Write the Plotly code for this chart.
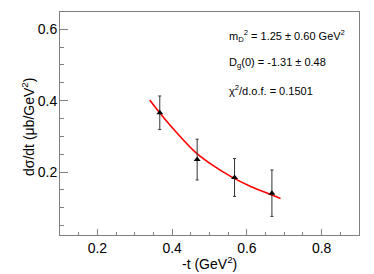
import plotly.graph_objects as go

# data points
t_vals = [0.367, 0.467, 0.567, 0.667]
xs_vals = [0.366, 0.235, 0.185, 0.141]
xs_err = [0.047, 0.057, 0.053, 0.065]

# fit curve samples
fit_t = [0.34, 0.37, 0.41, 0.465, 0.51, 0.56, 0.61, 0.667, 0.69]
fit_y = [0.402, 0.362, 0.313, 0.253, 0.218, 0.186, 0.160, 0.136, 0.126]

fit_text = [
    "m<sub>D</sub><sup>2</sup> = 1.25 ± 0.60 GeV<sup>2</sup>",
    "D<sub>g</sub>(0) = -1.31 ± 0.48",
    "χ<sup>2</sup>/d.o.f. = 0.1501",
]
x_title = "-t (GeV<sup>2</sup>)"
y_title = "dσ/dt (μb/GeV<sup>2</sup>)"

W, H = 374, 274
L, R, T, B = 60, 15, 12, 39
PW, PH = W - L - R, H - T - B


def px(X):
    return (X - L) / PW


def py(Y):
    return 1 - (Y - T) / PH


fig = go.Figure()
fig.add_trace(go.Scatter(
    x=fit_t, y=fit_y, mode="lines", line=dict(color="#ff0000", width=1.6, shape="spline"),
    showlegend=False, hoverinfo="skip"))
fig.add_trace(go.Scatter(
    x=t_vals, y=xs_vals, mode="markers",
    marker=dict(symbol="triangle-up", size=6, color="black"),
    error_y=dict(type="data", array=xs_err, visible=True, color="#333333", thickness=1, width=1.5),
    showlegend=False))

font = "Liberation Sans, Arial, sans-serif"
frame = "#808080"
fig.update_layout(
    width=W, height=H,
    margin=dict(l=L, r=R, t=T, b=B, pad=0),
    paper_bgcolor="white", plot_bgcolor="white",
    font=dict(family=font, size=13, color="black"),
)
fig.update_xaxes(
    range=[0.1, 0.9], dtick=0.2, tick0=0, tickformat=".1f",
    showgrid=False, zeroline=False, showline=True, mirror=True, linecolor=frame, linewidth=1,
    ticks="inside", ticklen=6, tickcolor=frame, tickwidth=1,
    minor=dict(dtick=0.05, tick0=0, ticks="inside", ticklen=3, tickcolor=frame, showgrid=False),
    tickfont=dict(size=14),
)
fig.update_yaxes(
    range=[0.024, 0.648], dtick=0.2, tick0=0, tickformat=".1f",
    showgrid=False, zeroline=False, showline=True, mirror=True, linecolor=frame, linewidth=1,
    ticks="inside", ticklen=8, tickcolor=frame, tickwidth=1,
    ticklabelstandoff=-1,
    minor=dict(dtick=0.05, tick0=0, ticks="inside", ticklen=4, tickcolor=frame, showgrid=False),
    tickfont=dict(size=14),
)

# axis titles
fig.add_annotation(
    x=px((L + W - R) / 2), y=py(263), xref="paper", yref="paper",
    xanchor="center", yanchor="middle", text=x_title, showarrow=False,
    font=dict(size=14, family=font, color="black"))
fig.add_annotation(
    x=px(28), y=py(127), xref="paper", yref="paper",
    xanchor="center", yanchor="middle", text=y_title, showarrow=False, textangle=-90,
    font=dict(size=14, family=font, color="black"))

ys = [36, 63, 90]
for txt, yp in zip(fit_text, ys):
    fig.add_annotation(
        x=px(227), y=py(yp), xref="paper", yref="paper",
        xanchor="left", yanchor="middle", text=txt, showarrow=False,
        font=dict(size=11, family=font, color="black"),
    )

fig.write_html("out.html", config={"displayModeBar": False},
               post_script="document.body.style.margin='0';")
